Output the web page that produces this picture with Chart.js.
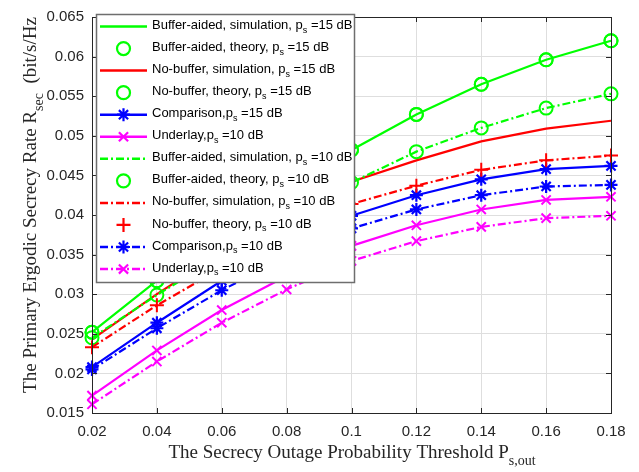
<!DOCTYPE html>
<html>
<head>
<meta charset="utf-8">
<script src="https://cdn.jsdelivr.net/npm/chart.js@4.4.1/dist/chart.umd.min.js"></script>
<style>
html,body{margin:0;padding:0;background:#fff;}
canvas{display:block;}
</style>
</head>
<body>
<canvas id="c" width="639" height="472"></canvas>
<script>
// ---- data ----
const categories = ['0.02','0.04','0.06','0.08','0.1','0.12','0.14','0.16','0.18'];
const yTickLabels = ['0.015','0.02','0.025','0.03','0.035','0.04','0.045','0.05','0.055','0.06','0.065'];

const bufferSim15   = [0.0252, 0.0317, 0.0377, 0.0432, 0.0482, 0.0527, 0.0565, 0.0596, 0.0620];
const bufferTheory15= [0.0252, 0.0317, 0.0377, 0.0432, 0.0482, 0.0527, 0.0565, 0.0596, 0.0620];
const noBufSim15    = [0.0243, 0.0300, 0.0353, 0.0400, 0.0442, 0.0469, 0.0493, 0.0509, 0.0519];
const noBufTheory15 = [0.0252, 0.0317, 0.0377, 0.0432, 0.0482, 0.0527, 0.0565, 0.0596, 0.0620];
const comparison15  = [0.0208, 0.0264, 0.0317, 0.0362, 0.0399, 0.0425, 0.0445, 0.0458, 0.0462];
const underlayA     = [0.0172, 0.0229, 0.0280, 0.0323, 0.0361, 0.0387, 0.0407, 0.0419, 0.0423];
const bufferSim10   = [0.0245, 0.0299, 0.0349, 0.0396, 0.0441, 0.0480, 0.0510, 0.0535, 0.0553];
const bufferTheory10= [0.0245, 0.0299, 0.0349, 0.0396, 0.0441, 0.0480, 0.0510, 0.0535, 0.0553];
const noBufSim10    = [0.0233, 0.0286, 0.0333, 0.0376, 0.0414, 0.0437, 0.0457, 0.0469, 0.0475];
const noBufTheory10 = [0.0233, 0.0286, 0.0333, 0.0376, 0.0414, 0.0437, 0.0457, 0.0469, 0.0475];
const comparison10  = [0.0205, 0.0257, 0.0305, 0.0347, 0.0383, 0.0407, 0.0425, 0.0436, 0.0438];
const underlayB     = [0.0161, 0.0215, 0.0264, 0.0306, 0.0342, 0.0367, 0.0385, 0.0396, 0.0399];

const seriesNames = [
  'Buffer-aided, simulation, p_{s} =15 dB',
  'Buffer-aided, theory, p_{s} =15 dB',
  'No-buffer, simulation, p_{s} =15 dB',
  'No-buffer, theory, p_{s} =15 dB',
  'Comparison,p_{s} =15 dB',
  'Underlay,p_{s} =10 dB',
  'Buffer-aided, simulation, p_{s} =10 dB',
  'Buffer-aided, theory, p_{s} =10 dB',
  'No-buffer, simulation, p_{s} =10 dB',
  'No-buffer, theory, p_{s} =10 dB',
  'Comparison,p_{s} =10 dB',
  'Underlay,p_{s} =10 dB'
];
const xTitle = 'The Secrecy Outage Probability Threshold P_{s,out}';
const yTitle = 'The Primary Ergodic Secrecy Rate R_{sec}  (bit/s/Hz';

// ---- styles ----
const GREEN='#00ff00', RED='#ff0000', BLUE='#0000ff', MAG='#ff00ff';
const DASHDOT=[8,3,2,3];
function ds(i, data, color, opts){
  return Object.assign({
    label: seriesNames[i], data, borderColor: color, backgroundColor:'rgba(0,0,0,0)',
    borderWidth: 2.2, pointRadius: 0, pointBorderWidth: 2, pointBorderColor: color,
    pointBackgroundColor:'rgba(0,0,0,0)', pointStyle:'circle', showLine:true,
    borderDash: [], tension: 0, clip: false
  }, opts||{});
}
const datasets = [
  ds(0, bufferSim15, GREEN),
  ds(1, bufferTheory15, GREEN, {showLine:false, pointRadius:6.5}),
  ds(2, noBufSim15, RED),
  ds(3, noBufTheory15, GREEN, {showLine:false, pointRadius:6.5}),
  ds(4, comparison15, BLUE, {pointRadius:6.5, pointStyle:'star', pointBorderWidth:2.2}),
  ds(5, underlayA, MAG, {pointRadius:6.5, pointStyle:'crossRot'}),
  ds(6, bufferSim10, GREEN, {borderDash:DASHDOT}),
  ds(7, bufferTheory10, GREEN, {showLine:false, pointRadius:6.5}),
  ds(8, noBufSim10, RED, {borderDash:DASHDOT}),
  ds(9, noBufTheory10, RED, {showLine:false, pointRadius:7, pointStyle:'cross'}),
  ds(10, comparison10, BLUE, {borderDash:DASHDOT, pointRadius:6.5, pointStyle:'star', pointBorderWidth:2.2}),
  ds(11, underlayB, MAG, {borderDash:DASHDOT, pointRadius:6.5, pointStyle:'crossRot'})
];
datasets.forEach((d,i)=>{ d.order = datasets.length - i; });

// ---- helpers for text with subscripts ----
function parseRich(s){
  const parts=[]; const re=/_\{([^}]*)\}/g; let last=0, m;
  while((m=re.exec(s))){ if(m.index>last) parts.push({t:s.slice(last,m.index),sub:false}); parts.push({t:m[1],sub:true}); last=re.lastIndex; }
  if(last<s.length) parts.push({t:s.slice(last),sub:false});
  return parts;
}
function richWidth(ctx, parts, size, fam){
  let w=0; parts.forEach(p=>{ ctx.font=(p.sub?Math.round(size*0.72):size)+'px '+fam; w+=ctx.measureText(p.t).width; }); return w;
}
function drawRich(ctx, parts, x, y, size, fam){
  let cx=x;
  parts.forEach(p=>{
    const fs = p.sub?Math.round(size*0.72):size;
    ctx.font=fs+'px '+fam;
    ctx.fillText(p.t, cx, p.sub? y+size*0.38 : y);
    cx+=ctx.measureText(p.t).width;
  });
}
function drawMarker(ctx, style, r, x, y){
  ctx.beginPath();
  if(style==='circle'){ ctx.arc(x,y,r,0,Math.PI*2); }
  else {
    const plus = ()=>{ ctx.moveTo(x-r,y); ctx.lineTo(x+r,y); ctx.moveTo(x,y-r); ctx.lineTo(x,y+r); };
    const ex = ()=>{ const d=r*Math.SQRT1_2; ctx.moveTo(x-d,y-d); ctx.lineTo(x+d,y+d); ctx.moveTo(x-d,y+d); ctx.lineTo(x+d,y-d); };
    if(style==='cross') plus(); else if(style==='crossRot') ex(); else { plus(); ex(); }
  }
  ctx.stroke();
}

const decor = {
  id:'decor',
  afterDraw(chart){
    const ctx=chart.ctx, a=chart.chartArea, xs=chart.scales.x, ys=chart.scales.y;
    ctx.save();
    // axes box
    ctx.strokeStyle='#262626'; ctx.lineWidth=1; ctx.setLineDash([]);
    ctx.strokeRect(Math.round(a.left)+0.5, Math.round(a.top)+0.5, Math.round(a.right-a.left), Math.round(a.bottom-a.top));
    // inward ticks
    const TL=5;
    ctx.beginPath();
    xs.ticks.forEach((t,i)=>{ const px=Math.round(xs.getPixelForTick(i))+0.5;
      ctx.moveTo(px,a.bottom); ctx.lineTo(px,a.bottom-TL); ctx.moveTo(px,a.top); ctx.lineTo(px,a.top+TL); });
    ys.ticks.forEach((t,i)=>{ const py=Math.round(ys.getPixelForTick(i))+0.5;
      ctx.moveTo(a.left,py); ctx.lineTo(a.left+TL,py); ctx.moveTo(a.right,py); ctx.lineTo(a.right-TL,py); });
    ctx.stroke();

    // axis titles
    ctx.fillStyle='#262626'; ctx.textBaseline='alphabetic'; ctx.textAlign='left';
    const serif='"Liberation Serif", "Times New Roman", serif';
    const xp=parseRich(xTitle), xw=richWidth(ctx,xp,19,serif);
    drawRich(ctx, xp, 352 - xw/2, 458, 19, serif);
    const yp=parseRich(yTitle), yw=richWidth(ctx,yp,19,serif);
    ctx.save(); ctx.translate(36, 205); ctx.rotate(-Math.PI/2);
    drawRich(ctx, yp, -yw/2, 0, 19, serif);
    ctx.restore();

    // legend
    const L=96, T=14, R=355, B=283;
    ctx.fillStyle='#fff'; ctx.fillRect(L,T,R-L,B-T);
    ctx.strokeStyle='#6e6e6e'; ctx.lineWidth=1.5; ctx.strokeRect(L+0.5,T+0.5,R-L-1,B-T-1);
    const sans='"Liberation Sans", Arial, sans-serif';
    chart.data.datasets.forEach((d,i)=>{
      const yRow = 26.5 + 22.05*i;
      ctx.strokeStyle=d.borderColor; ctx.lineWidth=2.5;
      if(d.showLine){ ctx.setLineDash(d.borderDash||[]); ctx.beginPath(); ctx.moveTo(100,yRow); ctx.lineTo(147,yRow); ctx.stroke(); }
      ctx.setLineDash([]); ctx.lineWidth=2.2;
      if(d.pointRadius>0) drawMarker(ctx, d.pointStyle, d.pointRadius, 123.5, yRow);
      ctx.fillStyle='#000'; ctx.textBaseline='middle';
      drawRich(ctx, parseRich(d.label), 152, yRow-1, 13, sans);
    });
    ctx.restore();
  }
};

new Chart(document.getElementById('c'), {
  type:'line',
  data:{ labels: categories, datasets },
  options:{
    responsive:false, animation:false, devicePixelRatio:1,
    layout:{ padding:{ top:9, right:28, left:0, bottom:0 } },
    plugins:{ legend:{display:false}, tooltip:{enabled:false} },
    scales:{
      x:{ type:'category', offset:false,
          grid:{ color:'#dedede', drawTicks:false, lineWidth:1 }, border:{display:false},
          ticks:{ autoSkip:false, maxRotation:0, padding:10, color:'#262626', font:{family:'"Liberation Sans", Arial, sans-serif', size:15} },
          afterFit(s){ s.height=59; } },
      y:{ type:'linear', min:0.015, max:0.065,
          grid:{ color:'#dedede', drawTicks:false, lineWidth:1 }, border:{display:false},
          ticks:{ stepSize:0.005, padding:8, color:'#262626', font:{family:'"Liberation Sans", Arial, sans-serif', size:15},
                  callback:(v,i)=> yTickLabels[i] !== undefined ? yTickLabels[i] : String(v) },
          afterFit(s){ s.width=92; } }
    }
  },
  plugins:[decor]
});
</script>
</body>
</html>
